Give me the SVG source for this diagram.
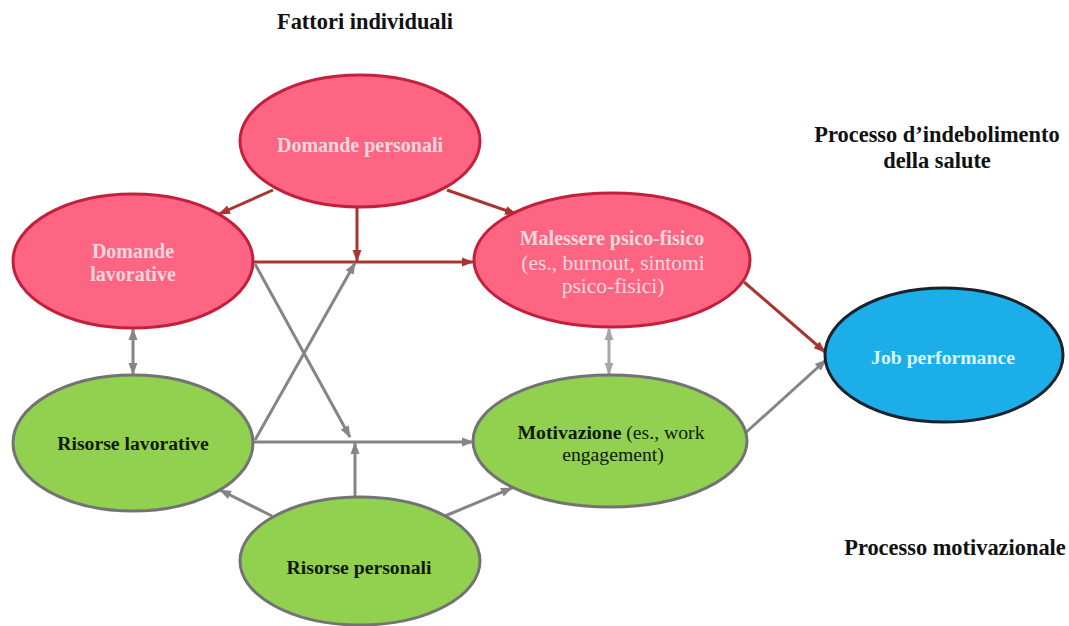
<svg xmlns="http://www.w3.org/2000/svg" width="1069" height="626" viewBox="0 0 1069 626">
<defs>
<marker id="ar" markerUnits="userSpaceOnUse" markerWidth="12" markerHeight="12" viewBox="0 0 12 12" refX="11" refY="6" orient="auto-start-reverse"><path d="M0,1.5 L12,6 L0,10.5 Z" fill="#a8352f"/></marker>
<marker id="ag" markerUnits="userSpaceOnUse" markerWidth="12" markerHeight="12" viewBox="0 0 12 12" refX="11" refY="6" orient="auto-start-reverse"><path d="M0,1.5 L12,6 L0,10.5 Z" fill="#858585"/></marker>
<marker id="al" markerUnits="userSpaceOnUse" markerWidth="12" markerHeight="12" viewBox="0 0 12 12" refX="11" refY="6" orient="auto-start-reverse"><path d="M0,1.5 L12,6 L0,10.5 Z" fill="#a6a6a6"/></marker>
</defs>
<style>
text{font-family:"Liberation Serif","Times New Roman",serif;text-anchor:middle}
.b{font-weight:bold}
.t{font-size:22.4px;fill:#111}
.pink{fill:#fe6582;stroke:#c2203d;stroke-width:3}
.green{fill:#92d050;stroke:#737373;stroke-width:3}
.blue{fill:#1caee9;stroke:#1a222c;stroke-width:3}
.pt{font-size:20px;fill:#f8d7df}
.pr{font-size:21.5px;fill:#f8d7df}
.gt{font-size:19.7px;fill:#0e1a0a}
.bt{font-size:19.7px;fill:#dff3fc}
.cr{stroke:#a8352f;stroke-width:3;fill:none;marker-end:url(#ar)}
.cg{stroke:#858585;stroke-width:3;fill:none;marker-end:url(#ag)}
.cl{stroke:#a6a6a6;stroke-width:3;fill:none;marker-end:url(#al);marker-start:url(#al)}
</style>
<rect width="1069" height="626" fill="#ffffff"/>
<text class="t b" x="365" y="29">Fattori individuali</text>
<text class="t b" x="937" y="142">Processo d’indebolimento</text>
<text class="t b" x="937" y="168">della salute</text>
<text class="t b" x="955" y="555">Processo motivazionale</text>
<g id="connectors">
<line class="cr" x1="273" y1="190" x2="219" y2="214"/>
<line class="cr" x1="447" y1="190" x2="516" y2="214"/>
<line class="cr" x1="357" y1="208" x2="357" y2="261"/>
<line class="cr" x1="253" y1="262" x2="473" y2="262"/>
<line class="cg" x1="255" y1="264" x2="350" y2="437"/>
<line class="cg" x1="255" y1="440" x2="355" y2="263"/>
<line class="cg" x1="253" y1="442" x2="473" y2="442"/>
<line class="cg" x1="355" y1="497" x2="355" y2="443"/>
<line class="cg" x1="272" y1="516" x2="220" y2="490"/>
<line class="cg" x1="445" y1="516" x2="512" y2="488"/>
<line class="cg" x1="133" y1="329" x2="133" y2="374" marker-start="url(#ag)"/>
<line class="cl" x1="609" y1="329" x2="609" y2="374"/>
<line class="cr" x1="744" y1="282" x2="825" y2="352"/>
<line class="cg" x1="742" y1="436" x2="826" y2="360"/>
</g>
<g id="domande-personali">
<ellipse class="pink" cx="360" cy="141" rx="120" ry="66"/>
<text class="pt b" x="360" y="152">Domande personali</text>
</g>
<g id="domande-lavorative">
<ellipse class="pink" cx="133" cy="261" rx="120" ry="67"/>
<text class="pt b" x="133" y="258">Domande</text>
<text class="pt b" x="133" y="281">lavorative</text>
</g>
<g id="malessere">
<ellipse class="pink" cx="612" cy="260" rx="138" ry="67"/>
<text class="pt b" x="612" y="245">Malessere psico-fisico</text>
<text class="pr" x="613" y="270">(es., burnout, sintomi</text>
<text class="pr" x="613" y="293">psico-fisici)</text>
</g>
<g id="risorse-lavorative">
<ellipse class="green" cx="133" cy="443" rx="120" ry="68"/>
<text class="gt b" x="133" y="450">Risorse lavorative</text>
</g>
<g id="motivazione">
<ellipse class="green" cx="610" cy="441" rx="137" ry="66"/>
<text class="gt" x="611" y="439"><tspan class="b">Motivazione</tspan> (es., work</text>
<text class="gt" x="613" y="461">engagement)</text>
</g>
<g id="risorse-personali">
<ellipse class="green" cx="360" cy="561" rx="120" ry="64"/>
<text class="gt b" x="359" y="574">Risorse personali</text>
</g>
<g id="job-performance">
<ellipse class="blue" cx="944" cy="355" rx="119" ry="67"/>
<text class="bt b" x="943" y="364">Job performance</text>
</g>
</svg>
